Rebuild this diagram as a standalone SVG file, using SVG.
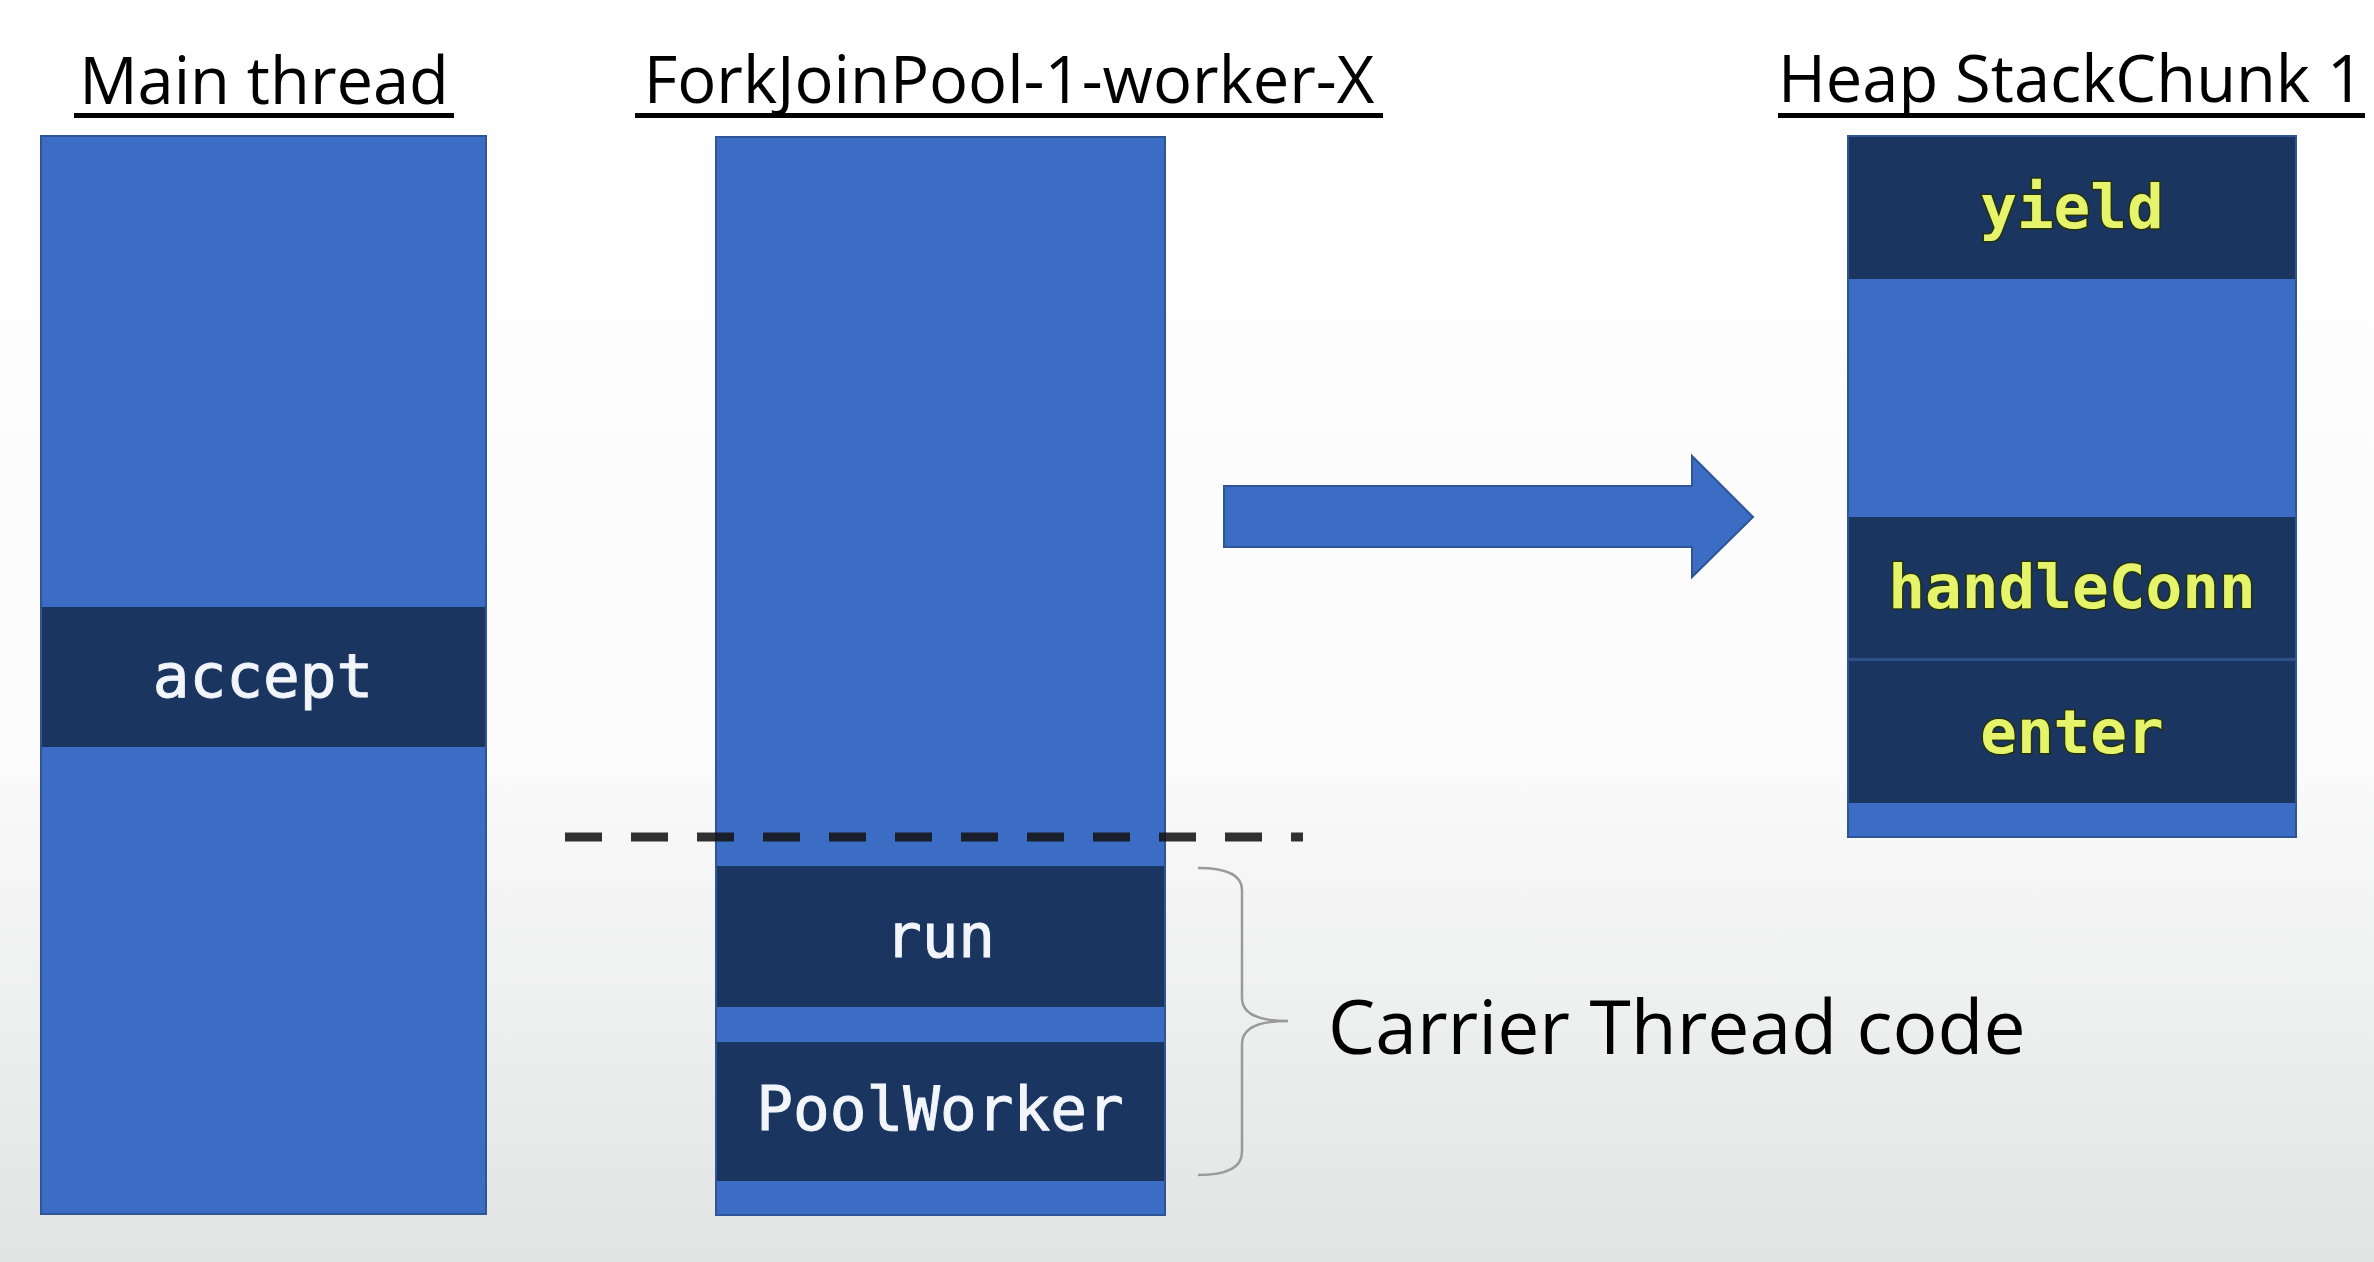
<svg xmlns="http://www.w3.org/2000/svg" width="2374" height="1262" viewBox="0 0 2374 1262">
<defs>
<linearGradient id="bg" x1="0" y1="0" x2="0" y2="1">
<stop offset="0" stop-color="#ffffff"/>
<stop offset="0.6" stop-color="#fbfbfb"/>
<stop offset="1" stop-color="#e2e3e3"/>
</linearGradient>
<style>
.title{font-family:"Open Sans","Noto Sans",sans-serif;font-size:65px;fill:#000;text-anchor:middle}
.ul{fill:#000}
.col{fill:#3a6dc3;stroke:#2f5597;stroke-width:2}
.band{fill:#1a3660}
.fw{font-family:"DejaVu Sans Mono","Liberation Mono",monospace;font-size:61px;text-anchor:middle}
.wt{fill:#f2f5fa;stroke:#f2f5fa;stroke-width:1}
.yt{fill:#e6f46c;stroke:#24320e;stroke-width:3;paint-order:stroke;font-weight:bold}
.lbl{font-family:"Open Sans","Noto Sans",sans-serif;font-size:75px;fill:#000}
</style>
</defs>
<rect x="0" y="0" width="2374" height="1262" fill="url(#bg)"/>

<g id="main-thread">
<text class="title" x="264" y="104">Main thread</text>
<rect class="ul" x="74" y="113" width="380" height="5"/>
<rect class="col" x="41" y="136" width="445" height="1078"/>
<rect class="band" x="42" y="607" width="443" height="140"/>
<text class="fw wt" x="263" y="697">accept</text>
</g>

<g id="forkjoin-worker">
<text class="title" x="1009" y="103">ForkJoinPool-1-worker-X</text>
<rect class="ul" x="635" y="113" width="748" height="5"/>
<rect class="col" x="716" y="137" width="449" height="1078"/>
<rect class="band" x="717" y="866" width="447" height="141"/>
<text class="fw wt" x="940" y="957">run</text>
<rect class="band" x="717" y="1042" width="447" height="139"/>
<text class="fw wt" x="940" y="1130">PoolWorker</text>
</g>

<g id="heap-stackchunk">
<text class="title" x="2071" y="102">Heap StackChunk 1</text>
<rect class="ul" x="1778" y="113" width="587" height="5"/>
<rect class="col" x="1848" y="136" width="448" height="701"/>
<rect class="band" x="1849" y="137" width="446" height="142"/>
<text class="fw yt" x="2072" y="228">yield</text>
<rect class="band" x="1849" y="517" width="446" height="142"/>
<rect x="1849" y="658" width="446" height="3" fill="#2c4f86"/>
<rect class="band" x="1849" y="661" width="446" height="142"/>
<text class="fw yt" x="2072" y="608">handleConn</text>
<text class="fw yt" x="2072" y="753">enter</text>
</g>

<g id="carrier-label">
<text class="lbl" x="1328" y="1054">Carrier Thread code</text>
</g>

<g id="connectors">
<path d="M1224,486 L1692,486 L1692,456 L1753,517 L1692,577 L1692,547 L1224,547 Z" fill="#3a6dc3" stroke="#2f5597" stroke-width="2"/>
<line x1="565" y1="837" x2="1303" y2="837" stroke="#151515" stroke-opacity="0.88" stroke-width="9" stroke-dasharray="37 29"/>
<path d="M1198,868 Q1242,868 1242,890 L1242,998 Q1242,1021 1288,1021 Q1242,1021 1242,1044 L1242,1152 Q1242,1175 1198,1175" fill="none" stroke="#9a9a9a" stroke-width="2.5"/>
</g>
</svg>
